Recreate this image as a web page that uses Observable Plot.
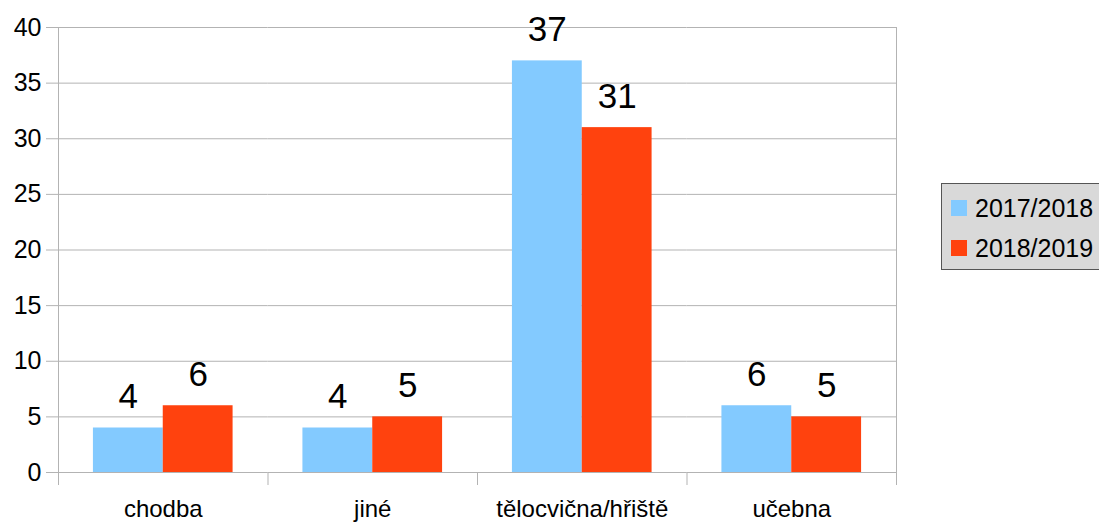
<!DOCTYPE html>
<html><head><meta charset="utf-8">
<script src="https://cdn.jsdelivr.net/npm/d3@7"></script>
<script src="https://cdn.jsdelivr.net/npm/@observablehq/plot@0.6"></script>
<style>
html,body{margin:0;padding:0;background:#fff;overflow:hidden;}
#chart{position:relative;width:1099px;height:525px;font-family:"Liberation Sans",Arial,sans-serif;}
#chart svg{position:absolute;left:0;top:0;}
#legend{position:absolute;left:941px;top:183px;width:175px;height:87px;background:#d9d9d9;border:1px solid #555;box-sizing:border-box;font-size:25px;color:#000;}
.item{position:absolute;left:9px;height:30px;display:flex;align-items:center;white-space:nowrap;}
.sw{width:16px;height:16px;margin-right:8px;display:inline-block;}
</style></head><body><div id="chart"></div>
<script>
const categories = ["chodba", "jiné", "tělocvična/hřiště", "učebna"];
const seriesNames = ["2017/2018", "2018/2019"];
const values2017 = [4, 4, 37, 6];
const values2018 = [6, 5, 31, 5];
const yTicks = [0, 5, 10, 15, 20, 25, 30, 35, 40];
const colors = ["#83caff", "#ff420e"];

const data = categories.flatMap((c, i) => [
  {category: c, series: seriesNames[0], value: values2017[i]},
  {category: c, series: seriesNames[1], value: values2018[i]}
]);

const font = '"Liberation Sans", Arial, sans-serif';
const grid = "#b3b3b3";

const plot = Plot.plot({
  width: 1099, height: 525,
  marginLeft: 58, marginRight: 203, marginTop: 27, marginBottom: 53,
  style: {fontFamily: font, fontSize: "24px", color: "#000", background: "transparent"},
  fx: {domain: categories, padding: 0, round: false, label: null},
  x: {domain: seriesNames, paddingInner: 0, paddingOuter: 0.5, round: false, axis: null},
  y: {domain: [0, 40], label: null},
  color: {domain: seriesNames, range: colors},
  marks: [
    Plot.ruleY(yTicks, {stroke: grid}),
    Plot.frame({anchor: "left", stroke: grid, insetTop: 445, insetBottom: -12}),
    Plot.frame({anchor: "left", stroke: grid, insetBottom: -12, facetAnchor: "left"}),
    Plot.frame({anchor: "right", stroke: grid, insetBottom: -12, facetAnchor: "right"}),
    Plot.axisY({ticks: yTicks, tickSize: 12, tickPadding: 5, stroke: grid, fill: "#000", label: null, fontSize: 25}),
    Plot.axisFx({anchor: "bottom", tickSize: 0, tickPadding: 27, label: null, fontSize: 24, fill: "#000"}),
    Plot.barY(data, {fx: "category", x: "series", y: "value", fill: "series"}),
    Plot.text(data, {fx: "category", x: "series", y: "value", text: d => String(d.value),
      lineAnchor: "bottom", dy: -20, fontSize: 35, fill: "#000"})
  ]
});
const chart = document.getElementById("chart");
chart.appendChild(plot);

const legend = document.createElement("div");
legend.id = "legend";
seriesNames.forEach((s, i) => {
  const it = document.createElement("div");
  it.className = "item";
  it.style.top = (i === 0 ? 9 : 49) + "px";
  const sw = document.createElement("span");
  sw.className = "sw";
  sw.style.background = colors[i];
  it.appendChild(sw);
  it.appendChild(document.createTextNode(s));
  legend.appendChild(it);
});
chart.appendChild(legend);
</script>
</body></html>
